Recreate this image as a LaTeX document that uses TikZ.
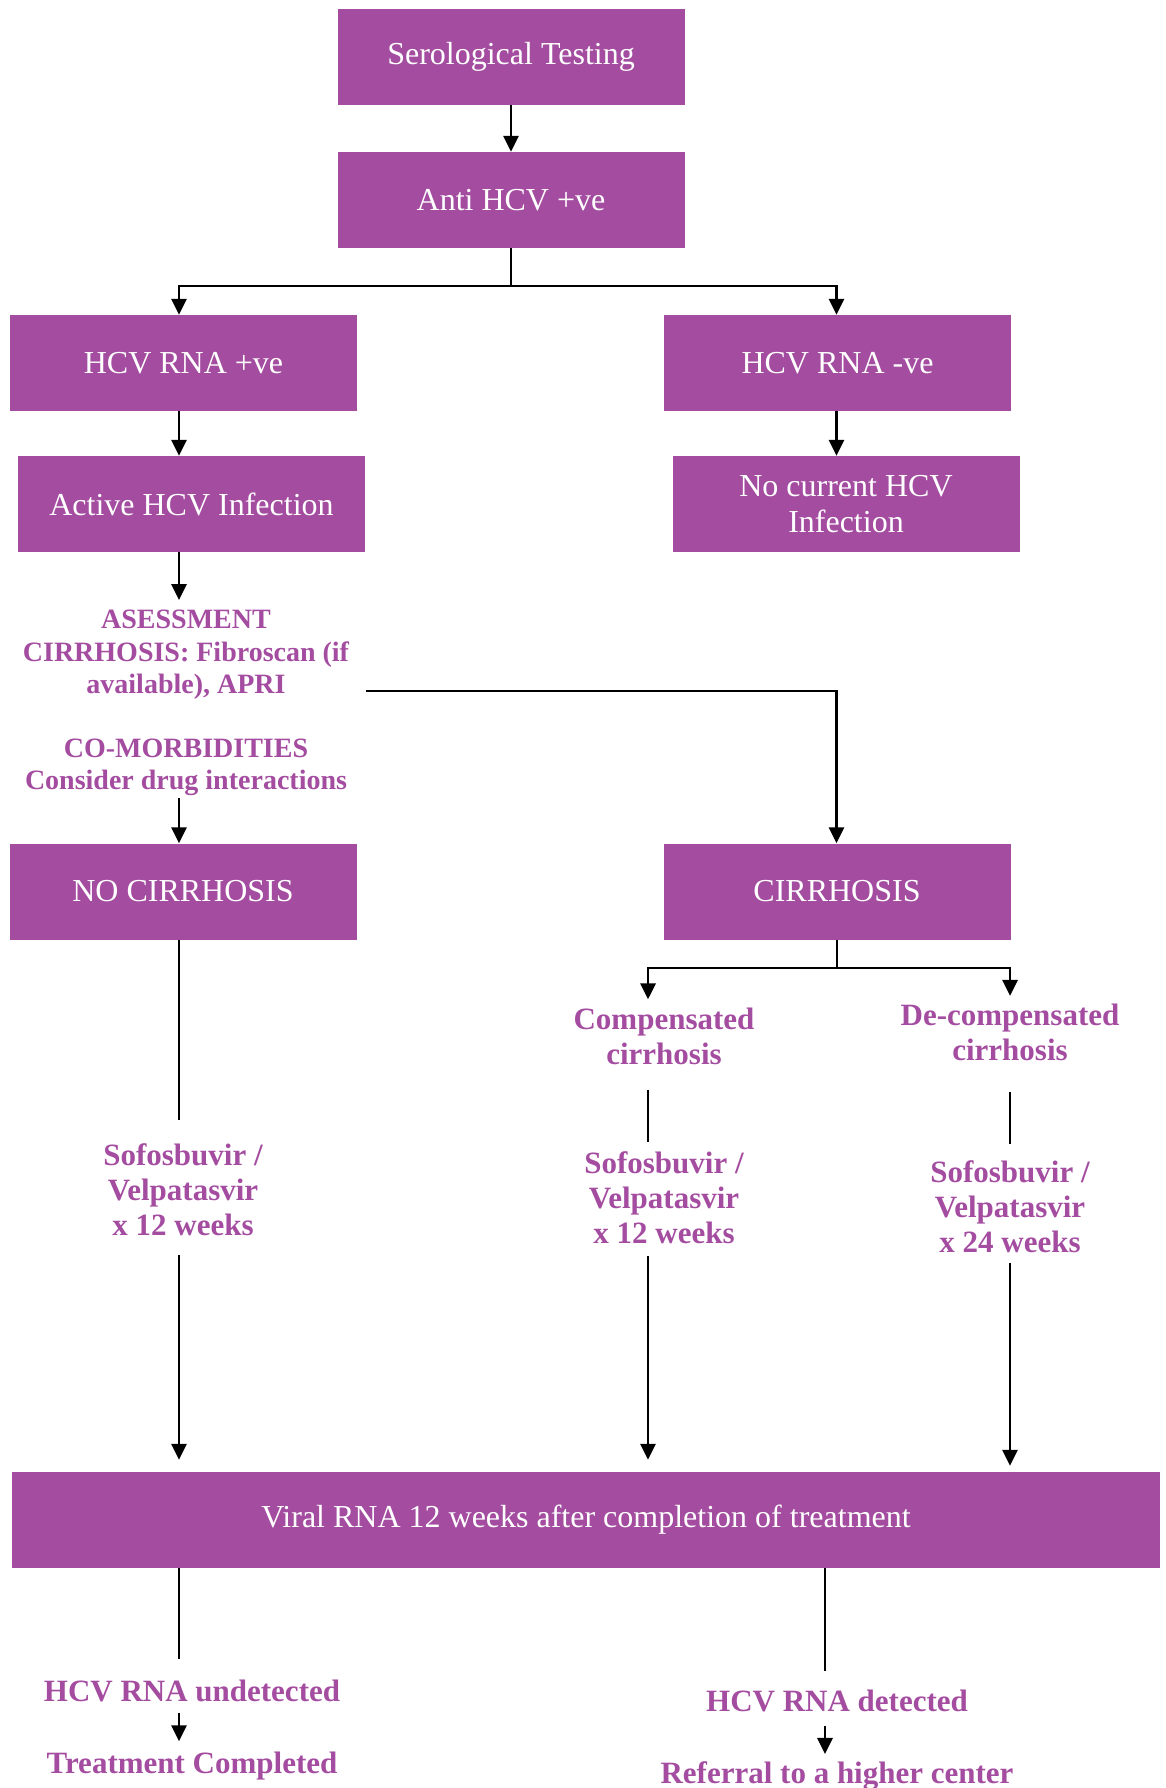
\documentclass[tikz,border=0pt]{standalone}
\usepackage{fontspec}
\setmainfont{Liberation Serif}
\usetikzlibrary{arrows.meta}
\definecolor{hcvpurple}{RGB}{163,76,160}

\tikzset{
  box/.style={fill=hcvpurple, text=white, inner sep=0pt, minimum width=347pt, minimum height=96pt, align=center, font=\fontsize{32}{36}\selectfont},
  note/.style={text=hcvpurple, inner sep=0pt, align=center, font=\bfseries\fontsize{31}{35}\selectfont},
  smallnote/.style={note, font=\bfseries\fontsize{28}{32.5}\selectfont},
  link/.style={line width=2.9pt},
  arr/.style={line width=2.9pt, -{Triangle[length=16pt,width=15pt]}},
}

\begin{document}
\begin{tikzpicture}[x=1pt,y=-1pt]
  \useasboundingbox (0,0) rectangle (1165,1788);
  % columns used by the connectors
  \coordinate (colA) at (179,0);
  \coordinate (colB) at (648,0);
  \coordinate (colC) at (836.5,0);
  \coordinate (colD) at (1010,0);
  \coordinate (colE) at (825,0);

  % boxes
  \node[box] (sero) at (511,57) {Serological Testing};
  \node[box] (anti) at (511,200) {Anti HCV +ve};
  \node[box] (pos) at (183.5,363) {HCV RNA +ve};
  \node[box] (neg) at (837.5,363) {HCV RNA -ve};
  \node[box] (active) at (191.5,504) {Active HCV Infection};
  \node[box] (nocur) at (846,504) {No current HCV\\Infection};
  \node[box] (nocirr) at (183,891.5) {NO CIRRHOSIS};
  \node[box] (cirr) at (837,891.5) {CIRRHOSIS};
  \node[box, minimum width=1148pt] (viral) at (586,1520) {Viral RNA 12 weeks after completion of treatment};

  % notes
  \node[smallnote] (assess) at (186,655) {ASESSMENT\\CIRRHOSIS: Fibroscan (if\\available), APRI};
  \node[smallnote] (comorb) at (186,767.5) {CO-MORBIDITIES\\Consider drug interactions};
  \node[note] (comp) at (664,1036) {Compensated\\cirrhosis};
  \node[note] (decomp) at (1010,1032.5) {De-compensated\\cirrhosis};
  \node[note] (sofo1) at (183,1189.5) {Sofosbuvir /\\Velpatasvir\\x 12 weeks};
  \node[note] (sofo2) at (664,1198) {Sofosbuvir /\\Velpatasvir\\x 12 weeks};
  \node[note] (sofo3) at (1010,1206.5) {Sofosbuvir /\\Velpatasvir\\x 24 weeks};
  \node[note, anchor=base] (undet) at (192,1701) {HCV RNA undetected};
  \node[note, anchor=base] (done) at (192,1773) {Treatment Completed};
  \node[note, anchor=base] (det) at (837,1711) {HCV RNA detected};
  \node[note, anchor=base] (refer) at (837,1783) {Referral to a higher center};

  \coordinate (split1) at (511,286);
  \coordinate (split2) at (837,968);
  \coordinate (assessout) at (366,691);

  % connectors
  \draw[arr] (sero) -- (anti);
  \draw[link] (anti) -- (split1);
  \draw[arr] (split1) -| (pos.north -| colA);
  \draw[arr] (split1) -| (neg.north -| colC);
  \draw[arr] (pos.south -| colA) -- (active.north -| colA);
  \draw[arr] (neg.south -| colC) -- (nocur.north -| colC);
  \draw[arr, shorten >=10pt] (active.south -| colA) -- (assess.north -| colA);
  \draw[arr] (assessout) -| (cirr.north -| colC);
  \draw[arr, shorten <=2pt] (comorb.south -| colA) -- (nocirr.north -| colA);
  \draw[link, shorten >=23pt] (nocirr.south -| colA) -- (sofo1.north -| colA);
  \draw[arr, shorten <=19pt, shorten >=12pt] (sofo1.south -| colA) -- (viral.north -| colA);
  \draw[link] (cirr) -- (split2);
  \draw[arr, shorten >=8pt] (split2) -| (comp.north -| colB);
  \draw[arr, shorten >=8pt] (split2) -| (decomp.north -| colD);
  \draw[link, shorten <=25pt, shorten >=10pt] (comp.south -| colB) -- (sofo2.north -| colB);
  \draw[arr, shorten <=12pt, shorten >=12pt] (sofo2.south -| colB) -- (viral.north -| colB);
  \draw[link, shorten <=31pt, shorten >=16pt] (decomp.south -| colD) -- (sofo3.north -| colD);
  \draw[arr, shorten <=10pt, shorten >=6pt] (sofo3.south -| colD) -- (viral.north -| colD);
  \draw[link, shorten >=20pt] (viral.south -| colA) -- (undet.north -| colA);
  \draw[arr, shorten <=11pt, shorten >=10pt] (undet.south -| colA) -- (done.north -| colA);
  \draw[link, shorten >=18pt] (viral.south -| colE) -- (det.north -| colE);
  \draw[arr, shorten <=14pt, shorten >=7pt] (det.south -| colE) -- (refer.north -| colE);
\end{tikzpicture}
\end{document}
